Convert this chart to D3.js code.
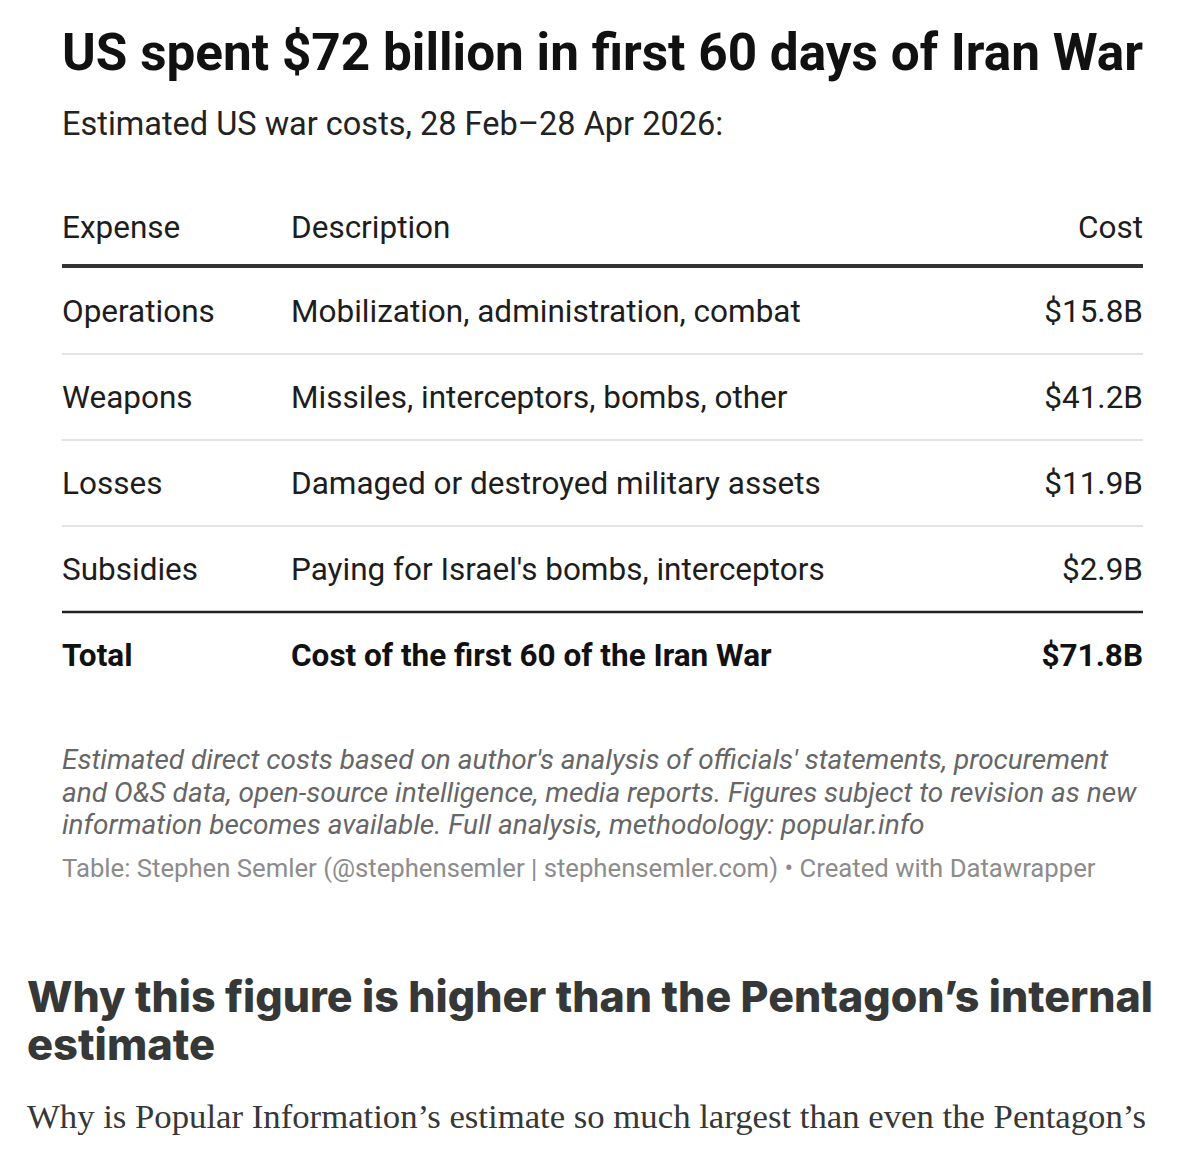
<!DOCTYPE html>
<html>
<head>
<meta charset="utf-8">
<script src="https://cdn.jsdelivr.net/npm/d3@7"></script>
<style>
  html, body { margin: 0; padding: 0; background: #fff; }
  svg { display: block; }
</style>
</head>
<body>
<div id="chart"></div>
<script>
// Table data
const columns      = ['Expense', 'Description', 'Cost'];
const expenses     = ['Operations', 'Weapons', 'Losses', 'Subsidies'];
const descriptions = [
    'Mobilization, administration, combat',
    'Missiles, interceptors, bombs, other',
    'Damaged or destroyed military assets',
    "Paying for Israel's bombs, interceptors"
];
const costs        = [15.8, 41.2, 11.9, 2.9];
const totalRow     = ['Total', 'Cost of the first 60 of the Iran War', 71.8];

const titleText    = 'US spent $72 billion in first 60 days of Iran War';
const subtitleText = 'Estimated US war costs, 28 Feb\u201328 Apr 2026:';
const noteLines    = [
    "Estimated direct costs based on author's analysis of officials' statements, procurement",
    'and O&S data, open-source intelligence, media reports. Figures subject to revision as new',
    'information becomes available. Full analysis, methodology: popular.info'
];
const sourceText   = 'Table: Stephen Semler (@stephensemler | stephensemler.com) \u2022 Created with Datawrapper';
const headingLines = ['Why this figure is higher than the Pentagon\u2019s internal', 'estimate'];
const bodyText     = 'Why is Popular Information\u2019s estimate so much largest than even the Pentagon\u2019s';

const W = 1200, H = 1151;
const left = 62, right = 1143, descX = 291;
const cellSize = '31.5px';
const fmt = v => '$' + d3.format('.1f')(v) + 'B';

const svg = d3.select('#chart').append('svg')
    .attr('width', W).attr('height', H)
    .style('font-family', 'Roboto, sans-serif');

// title + subtitle
svg.append('text')
    .attr('x', left).attr('y', 70)
    .attr('textLength', right - left).attr('lengthAdjust', 'spacingAndGlyphs')
    .style('font-size', '52px').style('font-weight', 700).style('fill', '#111')
    .text(titleText);

svg.append('text')
    .attr('x', left).attr('y', 135)
    .style('font-size', '32.5px').style('fill', '#222')
    .text(subtitleText);

// header row
const colX = [left, descX, right];
const colAnchor = ['start', 'start', 'end'];
svg.append('g').selectAll('text').data(columns).join('text')
    .attr('x', (d, i) => colX[i]).attr('y', 238)
    .attr('text-anchor', (d, i) => colAnchor[i])
    .style('font-size', cellSize).style('fill', '#1d1d1d')
    .text(d => d);

svg.append('line')
    .attr('x1', left).attr('x2', right).attr('y1', 266).attr('y2', 266)
    .attr('stroke', '#333').attr('stroke-width', 4);

// body rows, placed by a band scale
const y = d3.scaleBand().domain(d3.range(expenses.length)).range([268, 612]);

const rows = svg.append('g').selectAll('g').data(expenses).join('g')
    .attr('transform', (d, i) => `translate(0,${y(i) + y.bandwidth() / 2})`);

rows.append('text').attr('x', left).attr('dy', '0.35em')
    .style('font-size', cellSize).style('fill', '#1d1d1d')
    .text(d => d);
rows.append('text').attr('x', descX).attr('dy', '0.35em')
    .style('font-size', cellSize).style('fill', '#1d1d1d')
    .text((d, i) => descriptions[i]);
rows.append('text').attr('x', right).attr('dy', '0.35em').attr('text-anchor', 'end')
    .style('font-size', cellSize).style('fill', '#1d1d1d')
    .text((d, i) => fmt(costs[i]));

// separators between rows
svg.append('g').selectAll('line').data(d3.range(1, expenses.length)).join('line')
    .attr('x1', left).attr('x2', right)
    .attr('y1', i => y(i)).attr('y2', i => y(i))
    .attr('stroke', '#e3e3e3').attr('stroke-width', 2);

svg.append('line')
    .attr('x1', left).attr('x2', right).attr('y1', 612).attr('y2', 612)
    .attr('stroke', '#222').attr('stroke-width', 2.5);

// total row
const totalY = 612 + y.bandwidth() / 2;
svg.append('g').selectAll('text').data(totalRow).join('text')
    .attr('x', (d, i) => colX[i]).attr('y', totalY).attr('dy', '0.35em')
    .attr('text-anchor', (d, i) => colAnchor[i])
    .style('font-size', cellSize).style('font-weight', 700).style('fill', '#111')
    .text((d, i) => i === 2 ? fmt(d) : d);

// notes
svg.append('g').selectAll('text').data(noteLines).join('text')
    .attr('x', left).attr('y', (d, i) => 769 + i * 32.5)
    .style('font-size', '28px').style('font-style', 'italic').style('fill', '#666')
    .text(d => d);

svg.append('text')
    .attr('x', left).attr('y', 877)
    .style('font-size', '25.7px').style('fill', '#8c8c8c')
    .text(sourceText);

// article heading below the table
svg.append('g').selectAll('text').data(headingLines).join('text')
    .attr('x', 27).attr('y', (d, i) => 1012 + i * 48)
    .attr('textLength', (d, i) => i === 0 ? 1126 : 188)
    .attr('lengthAdjust', 'spacingAndGlyphs')
    .style('font-family', 'Inter, "Noto Sans", sans-serif')
    .style('font-size', '43px').style('font-weight', 800).style('fill', '#363737')
    .text(d => d);

svg.append('text')
    .attr('x', 27).attr('y', 1128)
    .attr('textLength', 1119).attr('lengthAdjust', 'spacingAndGlyphs')
    .style('font-family', '"Liberation Serif", serif')
    .style('font-size', '33px').style('fill', '#363737')
    .text(bodyText);
</script>
</body>
</html>
